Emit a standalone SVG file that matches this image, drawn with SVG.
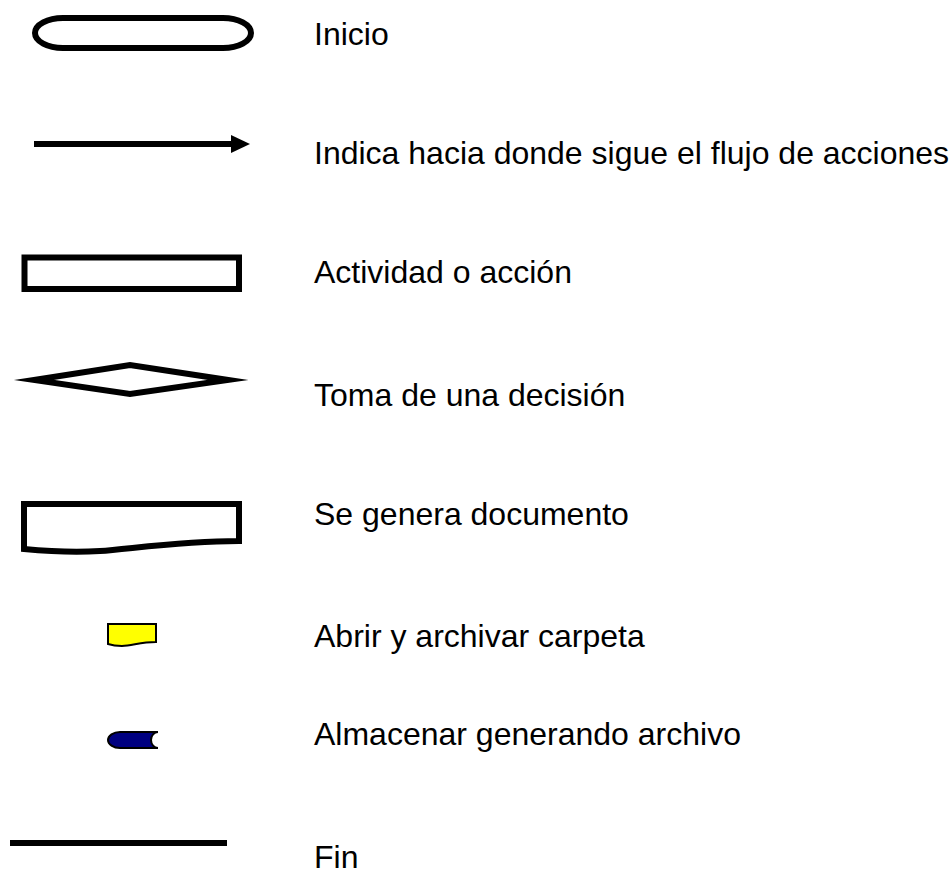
<svg xmlns="http://www.w3.org/2000/svg" width="952" height="880" viewBox="0 0 952 880">
<style>
.lbl{font-family:"Liberation Sans",Arial,sans-serif;font-size:32px;fill:#000}
.sym{fill:#fff;stroke:#000;stroke-width:6}
</style>
<rect width="952" height="880" fill="#fff"/>
<g id="inicio">
<rect class="sym" x="35" y="18" width="216" height="30" rx="28" ry="15"/>
<text class="lbl" x="314" y="45">Inicio</text>
</g>
<g id="connectors">
<line x1="34" y1="144" x2="233" y2="144" stroke="#000" stroke-width="6"/>
<path d="M231,135 L250,144 L231,153 Z" fill="#000"/>
</g>
<g id="flujo">
<text class="lbl" x="314" y="164">Indica hacia donde sigue el flujo de acciones</text>
</g>
<g id="actividad">
<rect class="sym" x="24.5" y="257.5" width="214.5" height="31.5" stroke-width="5.5"/>
<text class="lbl" x="314" y="283">Actividad o acción</text>
</g>
<g id="decision">
<polygon class="sym" points="34,380 130,365 228,380 130,394" stroke-width="5" stroke-linejoin="miter" stroke-miterlimit="20"/>
<text class="lbl" x="314" y="406">Toma de una decisión</text>
</g>
<g id="documento">
<path class="sym" d="M24,504 H239 V541 C180,541 130,549 100,551 C70,553 45,551 24,549 Z"/>
<text class="lbl" x="314" y="525">Se genera documento</text>
</g>
<g id="carpeta">
<path d="M108,624 H156 V642 C140,642 132,646 122,646 C116,646 111,645 108,644 Z" fill="#ffff00" stroke="#000" stroke-width="2"/>
<text class="lbl" x="314" y="647">Abrir y archivar carpeta</text>
</g>
<g id="archivo">
<path d="M120,732 H158 A7,8 0 0,0 158,748 H120 A12,8 0 0,1 120,732 Z" fill="#000080" stroke="#000" stroke-width="2"/>
<text class="lbl" x="314" y="745">Almacenar generando archivo</text>
</g>
<g id="fin">
<rect x="10" y="840" width="217" height="6" fill="#000"/>
<text class="lbl" x="314" y="868">Fin</text>
</g>
</svg>
